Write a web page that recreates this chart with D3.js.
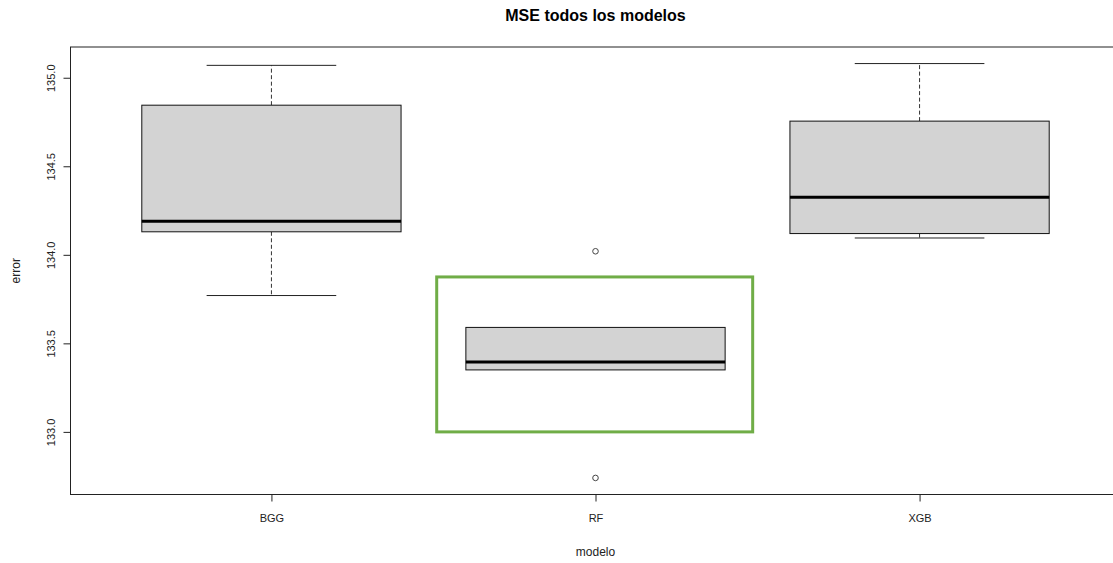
<!DOCTYPE html>
<html>
<head>
<meta charset="utf-8">
<script src="https://cdn.jsdelivr.net/npm/d3@7"></script>
<style>
  html, body { margin: 0; padding: 0; background: #fff; }
  svg { display: block; font-family: "Liberation Sans", Arial, sans-serif; }
</style>
</head>
<body>
<svg id="chart" width="1113" height="563"></svg>
<script>
// Five-number summaries of the MSE per model
const categories  = ["BGG", "RF", "XGB"];
const whiskerLow  = [133.77, 133.35, 134.095];
const lowerHinge  = [134.13, 133.35, 134.12];
const medians     = [134.19, 133.395, 134.325];
const upperHinge  = [134.845, 133.59, 134.755];
const whiskerHigh = [135.07, 133.59, 135.08];
const outliers    = [[], [134.02, 132.74], []];

// Highlighted region (model index range, error range)
const highlightModel = [1.51, 2.485];
const highlightError = [133.0, 133.875];

const yTicks = [133.0, 133.5, 134.0, 134.5, 135.0];

const svg = d3.select("#chart");
const plot = { left: 70.5, right: 1120.5, top: 47, bottom: 494.5 };

// axis ranges extended by 4% on each side
const n = categories.length;
const xPad = n * 0.04;
const x = d3.scaleLinear().domain([0.5 - xPad, n + 0.5 + xPad]).range([plot.left, plot.right]);

const allVals = whiskerLow.concat(whiskerHigh, outliers.flat());
const yMin = d3.min(allVals), yMax = d3.max(allVals);
const yPad = (yMax - yMin) * 0.04;
const y = d3.scaleLinear().domain([yMin - yPad, yMax + yPad]).range([plot.bottom, plot.top]);

const boxHalf = 0.4, stapleHalf = 0.2;

const boxes = categories.map((c, i) => ({
  name: c, pos: i + 1,
  lo: whiskerLow[i], q1: lowerHinge[i], med: medians[i], q3: upperHinge[i], hi: whiskerHigh[i],
  out: outliers[i]
}));

const g = svg.append("g");

// whiskers (dashed)
g.selectAll(".whisker-up").data(boxes.filter(d => d.hi > d.q3)).join("line")
  .attr("x1", d => x(d.pos)).attr("x2", d => x(d.pos))
  .attr("y1", d => y(d.q3)).attr("y2", d => y(d.hi))
  .attr("stroke", "#333").attr("stroke-width", 1).attr("stroke-dasharray", "4,2.5");
g.selectAll(".whisker-down").data(boxes.filter(d => d.lo < d.q1)).join("line")
  .attr("x1", d => x(d.pos)).attr("x2", d => x(d.pos))
  .attr("y1", d => y(d.q1)).attr("y2", d => y(d.lo))
  .attr("stroke", "#333").attr("stroke-width", 1).attr("stroke-dasharray", "4,2.5");

// staples (hidden by the box when the whisker ends at the hinge)
g.selectAll(".staple-hi").data(boxes.filter(d => d.hi > d.q3)).join("line")
  .attr("x1", d => x(d.pos - stapleHalf)).attr("x2", d => x(d.pos + stapleHalf))
  .attr("y1", d => y(d.hi)).attr("y2", d => y(d.hi))
  .attr("stroke", "#222").attr("stroke-width", 1);
g.selectAll(".staple-lo").data(boxes.filter(d => d.lo < d.q1)).join("line")
  .attr("x1", d => x(d.pos - stapleHalf)).attr("x2", d => x(d.pos + stapleHalf))
  .attr("y1", d => y(d.lo)).attr("y2", d => y(d.lo))
  .attr("stroke", "#222").attr("stroke-width", 1);

// boxes
g.selectAll(".box").data(boxes).join("rect")
  .attr("x", d => x(d.pos - boxHalf))
  .attr("width", d => x(d.pos + boxHalf) - x(d.pos - boxHalf))
  .attr("y", d => y(d.q3))
  .attr("height", d => y(d.q1) - y(d.q3))
  .attr("fill", "#d3d3d3").attr("stroke", "#111").attr("stroke-width", 1);

// medians
g.selectAll(".median").data(boxes).join("line")
  .attr("x1", d => x(d.pos - boxHalf)).attr("x2", d => x(d.pos + boxHalf))
  .attr("y1", d => y(d.med)).attr("y2", d => y(d.med))
  .attr("stroke", "#000").attr("stroke-width", 3);

// outliers
const outPts = boxes.flatMap(d => d.out.map(v => ({ pos: d.pos, v })));
g.selectAll(".outlier").data(outPts).join("circle")
  .attr("cx", d => x(d.pos)).attr("cy", d => y(d.v)).attr("r", 2.8)
  .attr("fill", "none").attr("stroke", "#444").attr("stroke-width", 1);

// highlight frame
svg.append("rect")
  .attr("x", x(highlightModel[0])).attr("y", y(highlightError[1]))
  .attr("width", x(highlightModel[1]) - x(highlightModel[0]))
  .attr("height", y(highlightError[0]) - y(highlightError[1]))
  .attr("fill", "none").attr("stroke", "#70ad47").attr("stroke-width", 3);

// plot frame
svg.append("rect")
  .attr("x", plot.left).attr("y", plot.top)
  .attr("width", plot.right - plot.left).attr("height", plot.bottom - plot.top)
  .attr("fill", "none").attr("stroke", "#222").attr("stroke-width", 1);

// y axis
const yAxis = d3.axisLeft(y).tickValues(yTicks).tickFormat(d3.format(".1f")).tickSize(7).tickSizeOuter(0);
const ya = svg.append("g").attr("transform", `translate(${plot.left},0)`).call(yAxis);
ya.select(".domain").attr("stroke", "#222")
  .attr("d", `M0,${y(yTicks[0])}V${y(yTicks[yTicks.length - 1])}`);
ya.selectAll(".tick line").attr("stroke", "#222");
ya.selectAll(".tick text")
  .attr("font-size", 11).attr("fill", "#222")
  .attr("x", null)
  .attr("text-anchor", "middle")
  .attr("transform", "translate(-19,0) rotate(-90)")
  .attr("dy", "0.35em");

// x axis
const xAxis = d3.axisBottom(x).tickValues(boxes.map(d => d.pos))
  .tickFormat((d, i) => categories[i]).tickSize(7).tickSizeOuter(0);
const xa = svg.append("g").attr("transform", `translate(0,${plot.bottom})`).call(xAxis);
xa.select(".domain").attr("stroke", "#222")
  .attr("d", `M${x(1)},0H${x(n)}`);
xa.selectAll(".tick line").attr("stroke", "#222");
xa.selectAll(".tick text").attr("font-size", 11).attr("fill", "#222").attr("y", 20).attr("dy", "0.71em");

// titles
svg.append("text").attr("x", (plot.left + plot.right) / 2).attr("y", 21)
  .attr("text-anchor", "middle").attr("font-weight", "bold").attr("font-size", 16).attr("fill", "#000")
  .text("MSE todos los modelos");
svg.append("text").attr("x", (plot.left + plot.right) / 2).attr("y", 556)
  .attr("text-anchor", "middle").attr("font-size", 12).attr("fill", "#222")
  .text("modelo");
svg.append("text").attr("transform", `translate(20,${(plot.top + plot.bottom) / 2}) rotate(-90)`)
  .attr("text-anchor", "middle").attr("font-size", 12).attr("fill", "#222")
  .text("error");
</script>
</body>
</html>
